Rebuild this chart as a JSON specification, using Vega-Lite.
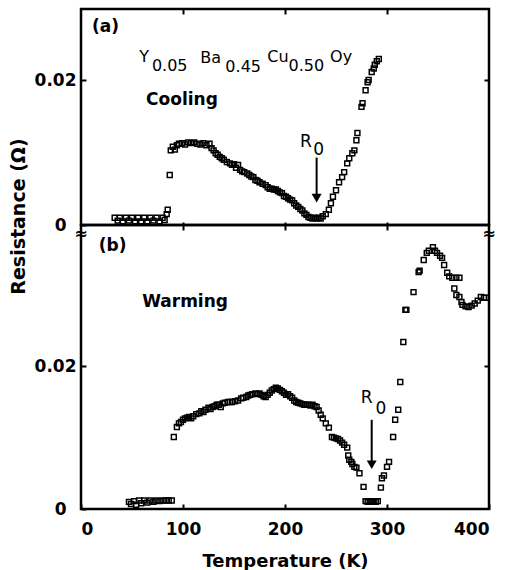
{
  "$schema": "https://vega.github.io/schema/vega-lite/v6.json",
  "autosize": {"type": "pad"},
  "padding": {"left": 7, "top": 6, "right": 0, "bottom": 0},
  "background": "white",
  "spacing": 0,
  "bounds": "flush",
  "config": {
    "view": {"stroke": "black", "strokeWidth": 2.5},
    "axis": {"grid": false, "domain": false, "tickColor": "black", "tickWidth": 2, "labelColor": "black", "titleColor": "black", "labelFont": "DejaVu Sans", "titleFont": "DejaVu Sans", "labelFontWeight": "bold", "titleFontWeight": "bold", "labelFontSize": 17, "titleFontSize": 18}
  },
  "datasets": {
    "cooling": [
      {"T":33,"R":0.0010},{"T":36,"R":0.0006},{"T":38,"R":0.0010},{"T":41,"R":0.0005},{"T":44,"R":0.0010},{"T":47,"R":0.0006},{"T":50,"R":0.0010},{"T":53,"R":0.0005},{"T":56,"R":0.0010},{"T":59,"R":0.0005},{"T":62,"R":0.0010},{"T":65,"R":0.0005},{"T":68,"R":0.0010},{"T":71,"R":0.0006},{"T":74,"R":0.0010},{"T":77,"R":0.0005},{"T":80,"R":0.0010},{"T":82,"R":0.0007},{"T":84,"R":0.0015},{"T":85,"R":0.0021},
      {"T":87,"R":0.0069},{"T":88,"R":0.0103},{"T":90,"R":0.0108},{"T":92,"R":0.0104},{"T":94,"R":0.0110},{"T":96,"R":0.0112},{"T":99,"R":0.0113},{"T":102,"R":0.0111},{"T":105,"R":0.0114},{"T":108,"R":0.0113},{"T":111,"R":0.0114},{"T":114,"R":0.0112},{"T":117,"R":0.0111},{"T":120,"R":0.0113},{"T":123,"R":0.0110},{"T":126,"R":0.0112},{"T":128,"R":0.0106},{"T":130,"R":0.0103},{"T":132,"R":0.0099},{"T":134,"R":0.0097},{"T":136,"R":0.0094},{"T":138,"R":0.0092},{"T":140,"R":0.0090},{"T":143,"R":0.0087},{"T":146,"R":0.0085},{"T":148,"R":0.0083},{"T":150,"R":0.0084},{"T":152,"R":0.0079},{"T":154,"R":0.0083},{"T":156,"R":0.0076},{"T":158,"R":0.0074},{"T":160,"R":0.0073},{"T":163,"R":0.0071},{"T":165,"R":0.0069},{"T":167,"R":0.0067},{"T":169,"R":0.0066},{"T":171,"R":0.0062},{"T":173,"R":0.0061},{"T":175,"R":0.0059},{"T":178,"R":0.0057},{"T":181,"R":0.0055},{"T":183,"R":0.0052},{"T":185,"R":0.0050},{"T":187,"R":0.0050},{"T":189,"R":0.0049},{"T":191,"R":0.0049},{"T":193,"R":0.0047},{"T":195,"R":0.0045},{"T":197,"R":0.0044},{"T":199,"R":0.0040},{"T":201,"R":0.0039},{"T":203,"R":0.0037},{"T":205,"R":0.0035},{"T":207,"R":0.0034},{"T":209,"R":0.0030},{"T":211,"R":0.0027},{"T":213,"R":0.0025},{"T":215,"R":0.0022},{"T":217,"R":0.0020},{"T":219,"R":0.0016},{"T":221,"R":0.0014},{"T":223,"R":0.0011},{"T":225,"R":0.0010},{"T":227,"R":0.0009},{"T":229,"R":0.0010},{"T":231,"R":0.0009},{"T":233,"R":0.0010},{"T":235,"R":0.0009},{"T":237,"R":0.0012},
      {"T":240,"R":0.0015},{"T":243,"R":0.0021},{"T":245,"R":0.0030},{"T":247,"R":0.0039},{"T":250,"R":0.0048},{"T":253,"R":0.0059},{"T":256,"R":0.0066},{"T":258,"R":0.0073},{"T":261,"R":0.0085},{"T":263,"R":0.0092},{"T":266,"R":0.0099},{"T":268,"R":0.0103},{"T":270,"R":0.0117},{"T":271,"R":0.0127},{"T":275,"R":0.0163},{"T":276,"R":0.0168},{"T":279,"R":0.0186},{"T":281,"R":0.0197},{"T":282,"R":0.0200},{"T":285,"R":0.0211},{"T":287,"R":0.0216},{"T":288,"R":0.0221},{"T":290,"R":0.0226},{"T":292,"R":0.0229}
    ],
    "warming": [
      {"T":47,"R":0.0010},{"T":49,"R":0.0007},{"T":52,"R":0.0011},{"T":54,"R":0.0006},{"T":57,"R":0.0012},{"T":59,"R":0.0008},{"T":62,"R":0.0012},{"T":65,"R":0.0009},{"T":68,"R":0.0012},{"T":71,"R":0.0010},{"T":74,"R":0.0012},{"T":77,"R":0.0011},{"T":80,"R":0.0012},{"T":83,"R":0.0012},{"T":86,"R":0.0012},{"T":89,"R":0.0012},
      {"T":91,"R":0.0101},{"T":94,"R":0.0115},{"T":96,"R":0.0120},{"T":98,"R":0.0122},{"T":100,"R":0.0125},{"T":102,"R":0.0127},{"T":104,"R":0.0128},{"T":106,"R":0.0129},{"T":108,"R":0.0127},{"T":110,"R":0.0130},{"T":113,"R":0.0133},{"T":116,"R":0.0134},{"T":118,"R":0.0137},{"T":120,"R":0.0136},{"T":122,"R":0.0139},{"T":125,"R":0.0142},{"T":127,"R":0.0140},{"T":129,"R":0.0143},{"T":131,"R":0.0144},{"T":133,"R":0.0146},{"T":135,"R":0.0146},{"T":137,"R":0.0143},{"T":139,"R":0.0148},{"T":141,"R":0.0149},{"T":144,"R":0.0150},{"T":146,"R":0.0150},{"T":148,"R":0.0150},{"T":151,"R":0.0151},{"T":154,"R":0.0152},{"T":157,"R":0.0155},{"T":159,"R":0.0156},{"T":162,"R":0.0157},{"T":164,"R":0.0159},{"T":166,"R":0.0160},{"T":168,"R":0.0161},{"T":171,"R":0.0162},{"T":173,"R":0.0161},{"T":175,"R":0.0162},{"T":177,"R":0.0160},{"T":179,"R":0.0158},{"T":181,"R":0.0157},{"T":183,"R":0.0160},{"T":185,"R":0.0163},{"T":187,"R":0.0166},{"T":189,"R":0.0168},{"T":191,"R":0.0170},{"T":193,"R":0.0169},{"T":195,"R":0.0167},{"T":197,"R":0.0165},{"T":199,"R":0.0163},{"T":201,"R":0.0160},{"T":203,"R":0.0161},{"T":205,"R":0.0158},{"T":207,"R":0.0156},{"T":209,"R":0.0152},{"T":211,"R":0.0150},{"T":213,"R":0.0149},{"T":215,"R":0.0148},{"T":217,"R":0.0147},{"T":219,"R":0.0146},{"T":221,"R":0.0146},{"T":223,"R":0.0146},{"T":225,"R":0.0145},{"T":227,"R":0.0146},{"T":229,"R":0.0144},{"T":231,"R":0.0143},{"T":233,"R":0.0138},{"T":235,"R":0.0132},{"T":237,"R":0.0127},{"T":240,"R":0.0120},{"T":243,"R":0.0114},{"T":246,"R":0.0101},{"T":248,"R":0.0100},{"T":250,"R":0.0099},{"T":252,"R":0.0098},{"T":254,"R":0.0096},{"T":256,"R":0.0093},{"T":258,"R":0.0090},{"T":261,"R":0.0086},{"T":262,"R":0.0075},{"T":263,"R":0.0069},{"T":265,"R":0.0066},{"T":266,"R":0.0063},{"T":268,"R":0.0059},{"T":270,"R":0.0058},{"T":273,"R":0.0050},{"T":277,"R":0.0031},{"T":279,"R":0.0011},{"T":281,"R":0.0010},{"T":283,"R":0.0011},{"T":285,"R":0.0010},{"T":287,"R":0.0011},{"T":289,"R":0.0010},{"T":291,"R":0.0011},
      {"T":294,"R":0.0030},{"T":295,"R":0.0043},{"T":297,"R":0.0047},{"T":300,"R":0.0059},{"T":302,"R":0.0066},{"T":306,"R":0.0101},{"T":308,"R":0.0125},{"T":311,"R":0.0139},{"T":313,"R":0.0178},{"T":316,"R":0.0234},{"T":318,"R":0.0279},{"T":319,"R":0.0279},{"T":326,"R":0.0304},{"T":331,"R":0.0332},{"T":332,"R":0.0334},{"T":336,"R":0.0349},{"T":339,"R":0.0359},{"T":341,"R":0.0362},{"T":345,"R":0.0367},{"T":347,"R":0.0362},{"T":349,"R":0.0359},{"T":352,"R":0.0355},{"T":354,"R":0.0352},{"T":356,"R":0.0342},{"T":359,"R":0.0331},{"T":361,"R":0.0326},{"T":364,"R":0.0324},{"T":368,"R":0.0324},{"T":371,"R":0.0324},{"T":366,"R":0.0309},{"T":368,"R":0.0300},{"T":371,"R":0.0297},{"T":373,"R":0.0290},{"T":374,"R":0.0286},{"T":377,"R":0.0284},{"T":380,"R":0.0283},{"T":383,"R":0.0285},{"T":386,"R":0.0288},{"T":389,"R":0.0292},{"T":392,"R":0.0297},{"T":395,"R":0.0296},{"T":397,"R":0.0296}
    ],
    "labels_a": [{"T":24,"R":0.0273,"t":"(a)"},{"T":99,"R":0.0172,"t":"Cooling"}],
    "formula": [{"T":62,"R":0.0232,"t":"Y"},{"T":87,"R":0.0219,"t":"0.05"},{"T":127,"R":0.0230,"t":"Ba"},{"T":159,"R":0.0218,"t":"0.45"},{"T":193,"R":0.0232,"t":"Cu"},{"T":221,"R":0.0219,"t":"0.50"},{"T":255,"R":0.0232,"t":"Oy"}],
    "r0_a": [{"T":220.5,"R":0.0114,"t":"R"},{"T":233,"R":0.0103,"t":"0"}],
    "arrow_a": [{"T":231,"R":0.0093,"R2":0.0040}],
    "head_a": [{"T":231,"R":0.0037}],
    "labels_b": [{"T":31,"R":0.0369,"t":"(b)"},{"T":102,"R":0.0290,"t":"Warming"}],
    "r0_b": [{"T":280,"R":0.0156,"t":"R"},{"T":294,"R":0.0140,"t":"0"}],
    "arrow_b": [{"T":285,"R":0.0125,"R2":0.0066}],
    "head_b": [{"T":285,"R":0.0062}],
    "breaks": [{"T":0,"R":0.0385,"t":"≈"},{"T":400,"R":0.0385,"t":"≈"}]
  },
  "vconcat": [
    {
      "width": 408,
      "height": 216,
      "layer": [
        {
          "data": {"name": "cooling"},
          "mark": {"type": "point", "shape": "square", "filled": false, "stroke": "black", "strokeWidth": 1.5, "size": 24, "opacity": 1},
          "encoding": {
            "x": {"field": "T", "type": "quantitative", "scale": {"domain": [0, 400], "nice": false, "zero": false},
                  "axis": {"orient": "bottom", "values": [100, 200, 300], "labels": false, "title": null, "offset": -3, "tickSize": 8}},
            "y": {"field": "R", "type": "quantitative", "scale": {"domain": [0, 0.0298], "nice": false},
                  "axis": {"orient": "left", "values": [0, 0.02], "labelExpr": "datum.value === 0 ? '0' : format(datum.value, '.2f')", "offset": -5, "tickSize": 5, "labelPadding": {"expr": "datum.value === 0 ? 15 : 5"}, "title": "Resistance (Ω)", "titleFontSize": 19, "titleX": -68, "titleY": 207, "titleAngle": -90, "titleAlign": "center", "titleBaseline": "middle"}}
          }
        },
        {
          "data": {"name": "arrow_a"},
          "mark": {"type": "rule", "color": "black", "strokeWidth": 2},
          "encoding": {
            "x": {"field": "T", "type": "quantitative", "axis": {"orient": "top", "values": [100, 200, 300], "labels": false, "title": null, "offset": -5, "tickSize": 5}},
            "y": {"field": "R", "type": "quantitative", "axis": {"orient": "right", "values": [0.02], "labels": false, "title": null, "offset": -5, "tickSize": 5}},
            "y2": {"field": "R2"}
          }
        },
        {
          "data": {"name": "head_a"},
          "mark": {"type": "point", "shape": "triangle-down", "filled": true, "color": "black", "size": 100, "opacity": 1},
          "encoding": {
            "x": {"field": "T", "type": "quantitative", "axis": null},
            "y": {"field": "R", "type": "quantitative", "axis": null}
          }
        },
        {
          "data": {"name": "labels_a"},
          "mark": {"type": "text", "font": "DejaVu Sans", "fontWeight": "bold", "fontSize": 17, "color": "black", "align": "center", "baseline": "middle"},
          "encoding": {
            "x": {"field": "T", "type": "quantitative", "axis": null},
            "y": {"field": "R", "type": "quantitative", "axis": null},
            "text": {"field": "t"}
          }
        },
        {
          "data": {"name": "formula"},
          "mark": {"type": "text", "font": "DejaVu Sans", "fontSize": 16, "fontWeight": 500, "color": "black", "align": "center", "baseline": "middle"},
          "encoding": {
            "x": {"field": "T", "type": "quantitative", "axis": null},
            "y": {"field": "R", "type": "quantitative", "axis": null},
            "text": {"field": "t"}
          }
        },
        {
          "data": {"name": "r0_a"},
          "mark": {"type": "text", "font": "DejaVu Sans", "fontSize": 17, "color": "black", "align": "center", "baseline": "middle"},
          "encoding": {
            "x": {"field": "T", "type": "quantitative", "axis": null},
            "y": {"field": "R", "type": "quantitative", "axis": null},
            "text": {"field": "t"}
          }
        }
      ],
      "resolve": {"axis": {"x": "independent", "y": "independent"}}
    },
    {
      "width": 408,
      "height": 284,
      "layer": [
        {
          "data": {"name": "warming"},
          "mark": {"type": "point", "shape": "square", "filled": false, "stroke": "black", "strokeWidth": 1.5, "size": 24, "opacity": 1},
          "encoding": {
            "x": {"field": "T", "type": "quantitative", "scale": {"domain": [0, 400], "nice": false, "zero": false},
                  "axis": {"orient": "bottom", "values": [0, 100, 200, 300, 400], "offset": -5, "tickSize": 5, "labelPadding": 12, "title": "Temperature (K)", "titlePadding": 15}},
            "y": {"field": "R", "type": "quantitative", "scale": {"domain": [0, 0.0398], "nice": false},
                  "axis": {"orient": "left", "values": [0, 0.02], "labelExpr": "datum.value === 0 ? '0' : format(datum.value, '.2f')", "offset": -5, "tickSize": 5, "labelPadding": {"expr": "datum.value === 0 ? 15 : 5"}, "title": null}}
          }
        },
        {
          "data": {"name": "arrow_b"},
          "mark": {"type": "rule", "color": "black", "strokeWidth": 2},
          "encoding": {
            "x": {"field": "T", "type": "quantitative", "axis": null},
            "y": {"field": "R", "type": "quantitative", "axis": {"orient": "right", "values": [0.02], "labels": false, "title": null, "offset": -5, "tickSize": 5}},
            "y2": {"field": "R2"}
          }
        },
        {
          "data": {"name": "head_b"},
          "mark": {"type": "point", "shape": "triangle-down", "filled": true, "color": "black", "size": 100, "opacity": 1},
          "encoding": {
            "x": {"field": "T", "type": "quantitative", "axis": null},
            "y": {"field": "R", "type": "quantitative", "axis": null}
          }
        },
        {
          "data": {"name": "labels_b"},
          "mark": {"type": "text", "font": "DejaVu Sans", "fontWeight": "bold", "fontSize": 17, "color": "black", "align": "center", "baseline": "middle"},
          "encoding": {
            "x": {"field": "T", "type": "quantitative", "axis": null},
            "y": {"field": "R", "type": "quantitative", "axis": null},
            "text": {"field": "t"}
          }
        },
        {
          "data": {"name": "r0_b"},
          "mark": {"type": "text", "font": "DejaVu Sans", "fontSize": 17, "color": "black", "align": "center", "baseline": "middle"},
          "encoding": {
            "x": {"field": "T", "type": "quantitative", "axis": null},
            "y": {"field": "R", "type": "quantitative", "axis": null},
            "text": {"field": "t"}
          }
        },
        {
          "data": {"name": "breaks"},
          "mark": {"type": "text", "font": "DejaVu Sans", "fontWeight": "bold", "fontSize": 16, "color": "black", "align": "center", "baseline": "middle"},
          "encoding": {
            "x": {"field": "T", "type": "quantitative", "axis": null},
            "y": {"field": "R", "type": "quantitative", "axis": null},
            "text": {"field": "t"}
          }
        }
      ],
      "resolve": {"axis": {"x": "independent", "y": "independent"}}
    }
  ]
}
